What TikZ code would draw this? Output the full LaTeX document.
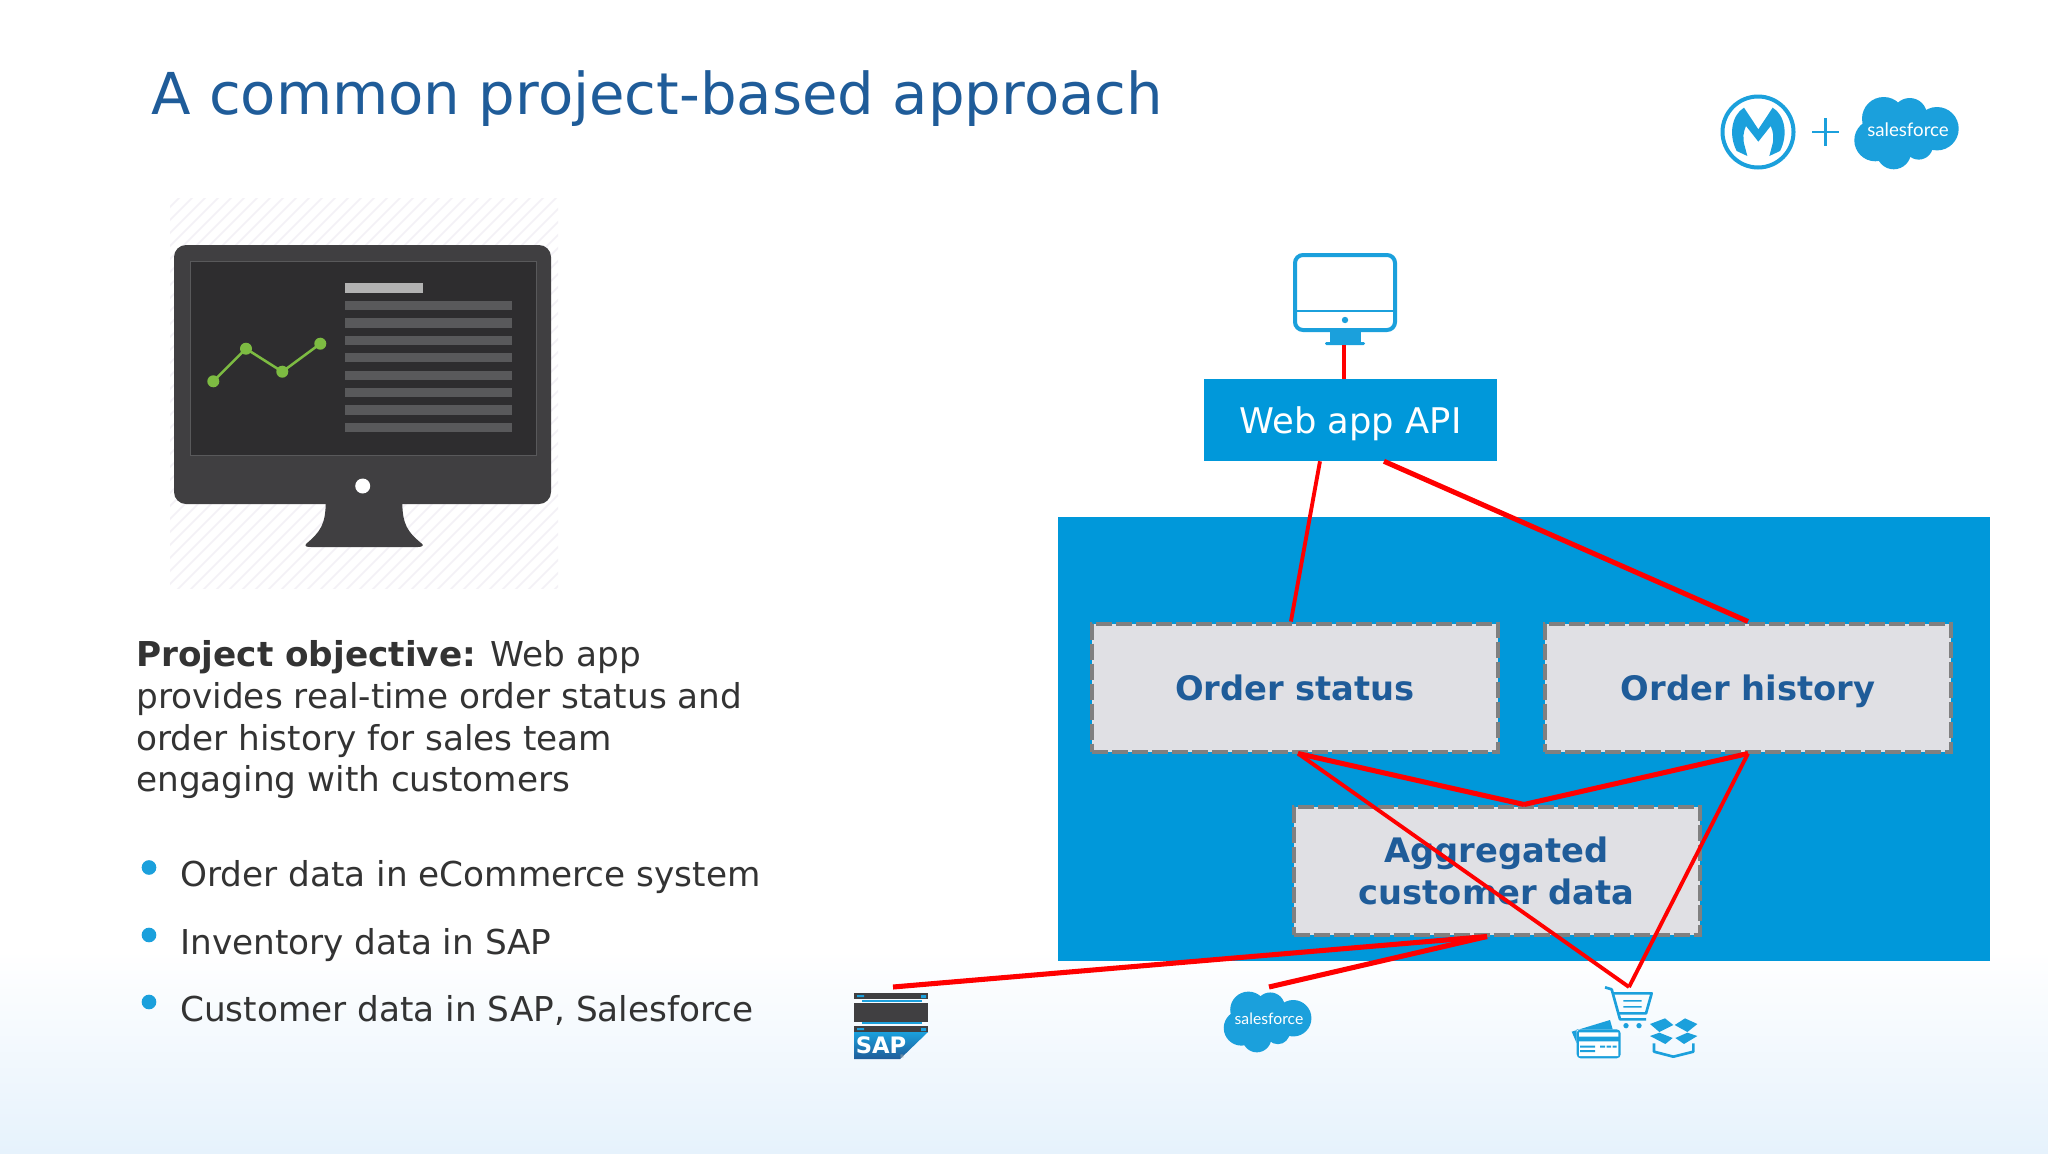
\documentclass[tikz,border=0pt]{standalone}
\usepackage{fontspec}
\setmainfont{DejaVu Sans}
\newfontfamily\logofont{Lato}
\usetikzlibrary{positioning, calc}

\definecolor{titleblue}{HTML}{1F5C99}
\definecolor{panelblue}{HTML}{0098DA}
\definecolor{iconblue}{HTML}{1BA0DC}
\definecolor{boxgrey}{HTML}{E0E0E4}
\definecolor{dashgrey}{HTML}{808080}
\definecolor{bodytext}{HTML}{333333}
\definecolor{screendark}{HTML}{403F41}
\definecolor{screenblack}{HTML}{2E2D2F}
\definecolor{barsgrey}{HTML}{59595B}
\definecolor{chartgreen}{HTML}{7DBB42}
\definecolor{fadeblue}{HTML}{E6F2FC}
\definecolor{hatchgrey}{HTML}{F3F1F6}

\newcommand{\px}[1]{\fontsize{#1}{31.5}\selectfont}
\newcommand{\lowered}[1]{\raisebox{-10pt}[0pt][0pt]{#1}}

\tikzset{
  service/.style={draw=dashgrey, fill=boxgrey, line width=3pt, dash pattern=on 12pt off 3pt, minimum width=304.5pt, minimum height=96pt, inner sep=0pt, text=titleblue, font=\px{25.3}\bfseries, align=center},
  link/.style={draw=red, line width=3.8pt},
  thinlink/.style={draw=red, line width=2.9pt},
  bullet/.style={circle, fill=iconblue, minimum size=11pt, inner sep=0pt},
  listitem/.style={anchor=base west, inner sep=0pt, text=bodytext, font=\px{25.7}},
  sfcloud/.pic={
    \fill[iconblue] (-23.3,-13.3) circle [radius=21.7] (2.7,-16.7) circle [radius=17.3] (30,-3.3) circle [radius=21.7] (11.7,13.3) circle [radius=14.3] (-13.3,20) circle [radius=17.3] (-31.7,8.3) circle [radius=21] (-3,0) circle [radius=22];
  }
}

\begin{document}
\begin{tikzpicture}[x=0.75pt, y=-0.75pt]
    \useasboundingbox (0,0) rectangle (2048,1153);

    % Background
    \fill[white] (0,0) rectangle (2048,1153);
    \shade[top color=white, bottom color=fadeblue] (0,950) rectangle (2048,1153);

    % Title
    \node[anchor=base west, inner sep=0pt, text=titleblue, font=\px{43.3}] (title) at (151,114) {A common project-based approach};

    % Left monitor
    \begin{scope}
        \clip (170,198) rectangle (558,588);
        \foreach \i in {0,...,62}
            \draw[hatchgrey, line width=1.2pt] (-260+\i*13,598) -- ++(420,-420);
    \end{scope}
    \fill[screendark, rounded corners=9pt] (174,245) rectangle (551,504);
    \fill[screendark] (325.7,500) .. controls (326,525) and (320,532) .. (306,544) .. controls (304,547) and (308,547) .. (312,547) -- (418,547) .. controls (423,547) and (424,545) .. (421,543) .. controls (408,532) and (402,525) .. (402.3,500) -- cycle;
    \fill[screenblack, draw=barsgrey, line width=0.6pt] (190,261) rectangle (536,455);
    \fill[white] (362.7,486) circle [radius=7.5];
    \fill[black!30] (345,283) rectangle (423,293);
    \foreach \y in {305.3,323,340.3,357.7,375.3,392.7,410,427.3}
        \fill[barsgrey] (345,\y-4.7) rectangle (512,\y+4.7);
    \draw[chartgreen, line width=1.9pt] (213.3,381.3) -- (246,348.7) -- (282.3,371.7) -- (320.3,343.7);
    \foreach \p in {(213.3,381.3),(246,348.7),(282.3,371.7),(320.3,343.7)}
        \fill[chartgreen] \p circle [radius=6];

    % Left text
    \node[listitem] (obj1) at (136,666) {\textbf{Project objective:} Web app};
    \node[listitem] (obj2) at (136,708) {provides real-time order status and};
    \node[listitem] (obj3) at (136,750) {order history for sales team};
    \node[listitem] (obj4) at (136,791) {engaging with customers};

    \node[bullet] (b1) at (149,867.5) {};
    \node[bullet] (b2) at (149,935) {};
    \node[bullet] (b3) at (149,1002) {};
    \node[listitem] (item1) at (180,886) {Order data in eCommerce system};
    \node[listitem] (item2) at (180,954) {Inventory data in SAP};
    \node[listitem] (item3) at (180,1021.5) {Customer data in SAP, Salesforce};

    % Logos
    \draw[iconblue, line width=3pt] (1758,132) circle [radius=35.5];
    \begin{scope}[shift={(1680,70)}, scale=1/3]
        \fill[iconblue] (192,113) -- (235,178) -- (278,113) .. controls (315,135) and (325,195) .. (300,243) -- (268,258) -- (276,228) .. controls (283,205) and (280,185) .. (272,168) -- (235,215) -- (198,168) .. controls (190,185) and (187,205) .. (194,228) -- (202,258) -- (170,243) .. controls (145,195) and (155,135) .. (192,113) -- cycle;
    \end{scope}
    \draw[iconblue, line width=2pt] (1812,132) -- (1839,132) (1825.7,118) -- (1825.7,146);
    \pic at (1907,132) {sfcloud};
    \node[inner sep=0pt, text=white, font=\logofont\px{14}] (sflogo) at (1908,130) {salesforce};

    % Diagram
    \fill[panelblue] (1058,517) rectangle (1990,961);
    \node[fill=panelblue, minimum width=219.75pt, minimum height=61.5pt, inner sep=0pt, text depth=0pt, text=white, font=\px{26.5}] (webapp) at (1350.5,420) {Web app API};

    \draw[iconblue, line width=3pt, rounded corners=6pt] (1295,255) rectangle (1395,330);
    \draw[iconblue, line width=2.2pt] (1295,311) -- (1395,311);
    \fill[iconblue] (1345,320) circle [radius=3.2];
    \fill[iconblue] (1330,331) rectangle (1361,342);
    \fill[iconblue, rounded corners=1pt] (1325,342) rectangle (1365,345);
    \coordinate (screenfoot) at (1344,345);

    \node[service] (status) at (1295,687.5) {\lowered{Order status}};
    \node[service] (history) at (1748,687.5) {\lowered{Order history}};
    \node[service] (aggregated) at (1496.5,870.5) {Aggregated\\customer data};

    % Sources
    \fill[screendark] (854,993) rectangle (928,999);
    \fill[iconblue] (862,1000) rectangle (922,1002);
    \fill[screendark] (854,1003) rectangle (928,1022);
    \fill[iconblue] (862,1022) rectangle (922,1024);
    \fill[screendark] (854,1026) rectangle (928,1032);
    \fill[iconblue] (921,995) rectangle (926,998) (857,995) rectangle (864,997) (921,1028) rectangle (926,1031) (857,1028) rectangle (864,1030);
    \shade[top color=iconblue, bottom color=titleblue] (854,1032) -- (928,1032) -- (900,1059) -- (854,1059) -- cycle;
    \node[inner sep=0pt, text=white, font=\px{17}\bfseries] (saplogo) at (881,1045) {SAP};
    \node[inner sep=0pt, text=black!35, font=\px{4}] (sapmark) at (902,1057) {®};

    \pic[scale=0.84] at (1268,1021) {sfcloud};
    \node[inner sep=0pt, text=white, font=\logofont\px{11.8}] (sfsmall) at (1269,1019) {salesforce};

    % Cart and card
    \begin{scope}[shift={(1560,980)}, scale=1/3, iconblue]
        \draw[line width=2pt, line join=round] (135,22) -- (155,28) -- (180,118) -- (258,118);
        \draw[line width=2pt, line join=round] (160,40) -- (275,40) -- (258,100) -- (175,100);
        \fill (190,60) rectangle (245,65) (190,78) rectangle (245,83);
        \fill (198,137) circle [radius=8] (237,137) circle [radius=8];
        \fill (35,155) -- (150,120) -- (158,148) -- (50,148) -- (50,190) -- cycle;
        \fill[rounded corners=3pt] (50,148) rectangle (182,235);
        \fill[white] (57,157) rectangle (175,170) (57,184) rectangle (175,228);
        \fill (60,197) rectangle (105,203) (60,210) rectangle (105,216) (120,197) rectangle (135,203) (140,197) rectangle (153,203) (158,197) rectangle (170,203);
    \end{scope}
    % Box
    \begin{scope}[shift={(1640,1010)}, scale=1/3, iconblue]
        \fill (30,42) -- (75,25) -- (100,45) -- (58,66) -- cycle;
        \fill (104,45) -- (135,25) -- (172,42) -- (142,66) -- cycle;
        \fill (30,78) -- (58,68) -- (98,84) -- (76,102) -- cycle;
        \fill (106,84) -- (142,68) -- (172,78) -- (132,102) -- cycle;
        \draw[line width=2pt, line join=round] (42,100) -- (42,125) -- (100,140) -- (160,125) -- (160,100);
    \end{scope}
    \coordinate (cartwire) at (1629,987);
    \coordinate (sapwire) at (893,987);
    \coordinate (sfwire) at (1269,987);

    % Links
    \draw[thinlink] (screenfoot) -- (webapp.north -| screenfoot);
    \draw[thinlink] ($(webapp.south west)!0.396!(webapp.south east)$) -- ($(status.north west)!0.49!(status.north east)$);
    \draw[link] ($(webapp.south west)!0.614!(webapp.south east)$) -- (history.north);
    \coordinate (statusout) at ($(status.south)+(3,0)$);
    \coordinate (aggtop) at ($(aggregated.north)+(27.5,0)$);
    \coordinate (aggin) at ($(aggregated.south)+(-9.5,0)$);
    \draw[link] (statusout) -- (aggtop);
    \draw[link] (history.south) -- (aggtop);
    \draw[thinlink] (statusout) -- (cartwire);
    \draw[thinlink] (history.south) -- (cartwire);
    \draw[link] (aggin) -- (sapwire);
    \draw[link] (aggin) -- (sfwire);
\end{tikzpicture}
\end{document}
